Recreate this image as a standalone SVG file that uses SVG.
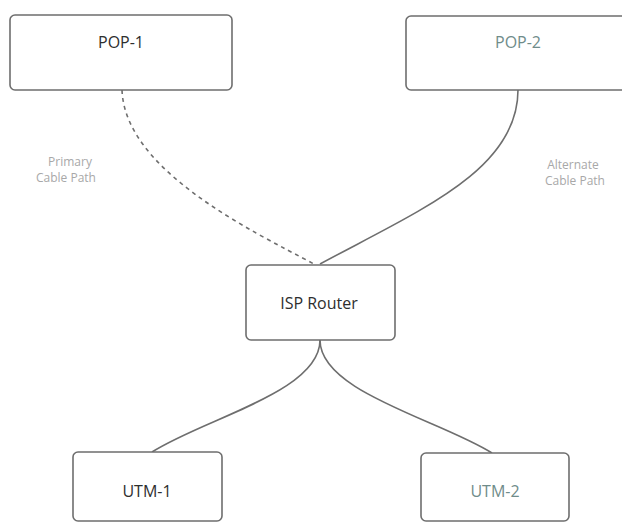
<svg xmlns="http://www.w3.org/2000/svg" width="622" height="524" viewBox="0 0 622 524">
  <style>
    .box { fill: #ffffff; stroke: #6e6e6e; stroke-width: 1.6; }
    .t { font-family: "Open Sans", "Liberation Sans", sans-serif; font-size: 16px; text-anchor: middle; fill: #2e2e2e; }
    .t2 { fill: #6f8c8a; }
    .lbl { font-family: "Open Sans", "Liberation Sans", sans-serif; font-size: 12px; text-anchor: middle; fill: #a8a8a8; }
    .link { fill: none; stroke: #6e6e6e; stroke-width: 1.6; }
    .dash { stroke-dasharray: 4 4; }
  </style>
  <rect width="622" height="524" fill="#ffffff"/>
  <g id="connectors">
    <path class="link dash" d="M122,90 C125,170 250,230 314,264"/>
    <path class="link" d="M518,90 C518,170 420,210 320,264"/>
    <path class="link" d="M320,340 C320,392 205,418 152,452"/>
    <path class="link" d="M320,340 C320,392 440,420 492,453"/>
  </g>
  <g id="labels">
    <text class="lbl" x="70" y="166">Primary</text>
    <text class="lbl" x="66" y="182">Cable Path</text>
    <text class="lbl" x="573" y="169">Alternate</text>
    <text class="lbl" x="575" y="185">Cable Path</text>
  </g>
  <g id="pop1">
    <rect class="box" x="10" y="15" width="222" height="75" rx="5"/>
    <text class="t" x="121" y="48">POP-1</text>
  </g>
  <g id="pop2">
    <rect class="box" x="406" y="16" width="230" height="74" rx="5"/>
    <text class="t t2" x="518" y="48">POP-2</text>
  </g>
  <g id="isp-router">
    <rect class="box" x="246" y="265" width="149" height="75" rx="5"/>
    <text class="t" x="319" y="309">ISP Router</text>
  </g>
  <g id="utm1">
    <rect class="box" x="73" y="452" width="149" height="69" rx="5"/>
    <text class="t" x="147" y="497">UTM-1</text>
  </g>
  <g id="utm2">
    <rect class="box" x="421" y="453" width="148" height="68" rx="5"/>
    <text class="t t2" x="495" y="497">UTM-2</text>
  </g>
</svg>
